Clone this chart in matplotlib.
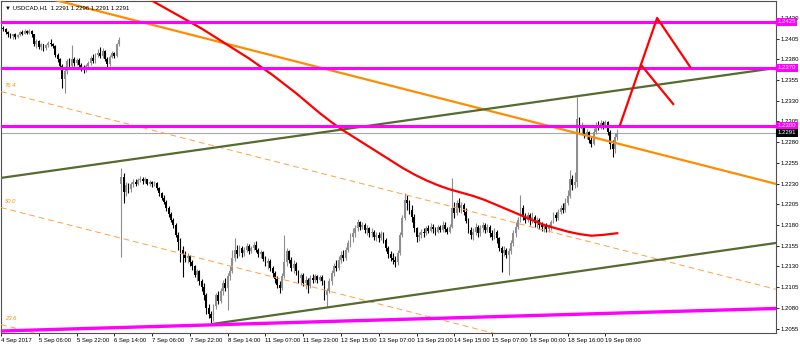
import matplotlib
matplotlib.use('Agg')
import matplotlib.pyplot as plt
import numpy as np

plt.rcParams['font.family'] = ['Liberation Sans', 'DejaVu Sans']

# USDCAD H1, one entry per bar starting 4 Sep 2017 14:00
# prices kept as pips above 1.2000
open_pips = [414, 418, 416, 413, 410, 408, 410, 407, 409, 413, 411, 414, 412, 414,
             410, 398, 402, 395, 398, 393, 397, 400, 398, 396, 385, 380, 372, 356,
             366, 378, 372, 380, 376, 379, 373, 370, 367, 372, 375, 382, 378, 385,
             388, 384, 390, 380, 374, 383, 387, 384, 398, 230,
             238, 220, 228, 223, 229, 232, 230, 234, 236, 233,
             235, 230, 232, 229, 231, 224, 218, 213, 208, 200, 193, 186,
             180, 168, 160, 150, 145, 140, 142, 135, 130, 120, 124, 112,
             105, 95, 80, 72, 68, 82, 95, 88, 100, 110, 104, 118,
             125, 140, 150, 145, 152, 146, 150, 155, 149, 152, 156,
             150, 145, 147, 139, 134, 137, 128, 122, 115, 108, 104,
             118, 135, 148, 138, 128, 133, 124, 116, 120, 110, 114,
             106, 116, 113, 118, 114, 117, 112, 95, 100, 112, 122,
             130, 128, 138, 144, 140, 150, 158, 165, 170, 176, 183, 178,
             180, 174, 176, 170, 172, 166, 168, 164, 169, 162, 152, 145,
             140, 138, 135, 146, 168, 188, 210, 206, 198, 190, 176, 165, 168,
             172, 170, 176, 173, 178, 175, 172, 177, 174, 180, 175, 172,
             178, 200, 195, 206, 200, 204, 196, 185, 174, 168, 172, 178, 170,
             176, 180, 174, 178, 170, 166, 172, 164, 152, 146, 150, 144, 148,
             158, 170, 178, 186, 200, 190, 186, 192, 186, 190, 182, 186,
             180, 177, 180, 175, 178, 184, 192, 188, 196, 200, 198, 206,
             215, 236, 228, 232, 308, 296, 300, 288, 292, 282, 278,
             292, 300, 298, 303, 299, 304, 292, 278, 272, 286]
high_pips = [421, 420, 418, 414, 412, 411, 412, 411, 414, 415, 416, 415, 416, 415,
             411, 404, 403, 400, 399, 399, 402, 404, 400, 397, 388, 382, 374, 370,
             380, 382, 397, 383, 381, 381, 376, 373, 374, 378, 384, 386, 387, 392,
             395, 393, 391, 383, 385, 390, 389, 400, 407, 249,
             243, 232, 231, 232, 235, 236, 237, 239, 238, 238,
             236, 234, 233, 233, 232, 226, 220, 216, 210, 203, 196, 188,
             182, 172, 164, 155, 148, 146, 144, 138, 132, 127, 126, 115,
             110, 98, 84, 76, 85, 98, 100, 104, 114, 116, 122, 130,
             150, 164, 156, 156, 154, 153, 158, 157, 155, 160, 161,
             152, 150, 149, 142, 140, 139, 131, 125, 118, 112, 122,
             168, 152, 150, 141, 138, 135, 126, 122, 122, 118, 116,
             120, 121, 121, 120, 120, 119, 114, 104, 116, 126, 134,
             138, 142, 148, 150, 153, 162, 170, 176, 180, 187, 185, 184,
             182, 180, 178, 176, 174, 171, 172, 173, 171, 164, 155, 148,
             146, 142, 150, 172, 192, 218, 216, 210, 204, 193, 178, 172, 175,
             176, 179, 180, 182, 181, 178, 180, 180, 185, 183, 178, 181,
             237, 208, 210, 212, 208, 207, 200, 188, 178, 176, 182, 180, 180,
             184, 182, 181, 180, 174, 176, 174, 166, 155, 154, 152, 152, 162,
             174, 183, 190, 216, 204, 194, 196, 194, 196, 192, 190, 188,
             183, 182, 182, 181, 186, 196, 196, 199, 204, 206, 212, 222,
             246, 240, 244, 334, 310, 304, 301, 296, 294, 286, 297,
             304, 306, 307, 306, 307, 306, 295, 282, 291, 296]
low_pips = [412, 414, 411, 407, 406, 405, 405, 406, 408, 409, 410, 410, 411, 407,
            396, 393, 392, 391, 390, 391, 395, 396, 394, 383, 377, 368, 345, 339,
            362, 368, 370, 372, 373, 370, 366, 363, 365, 370, 373, 376, 376, 383,
            382, 381, 378, 370, 372, 381, 382, 383, 396, 141,
            207, 215, 219, 220, 226, 227, 228, 232, 230, 231,
            228, 227, 226, 227, 222, 215, 210, 205, 197, 190, 183, 176,
            165, 150, 135, 117, 135, 134, 130, 126, 117, 112, 108, 100,
            90, 72, 68, 62, 64, 79, 84, 86, 96, 100, 77, 114,
            122, 136, 140, 142, 141, 143, 147, 145, 146, 150, 147,
            141, 140, 136, 130, 127, 124, 117, 110, 104, 98, 101,
            116, 130, 134, 124, 122, 120, 110, 108, 106, 103, 98,
            104, 110, 111, 110, 112, 108, 90, 81, 98, 108, 118,
            124, 126, 134, 137, 138, 147, 153, 160, 166, 173, 174, 175,
            170, 168, 165, 166, 162, 161, 160, 162, 158, 148, 140, 136,
            133, 129, 132, 144, 165, 186, 198, 193, 184, 172, 160, 161, 164,
            166, 168, 170, 171, 170, 168, 170, 171, 172, 171, 169, 170,
            176, 188, 192, 196, 195, 192, 182, 170, 163, 162, 168, 166, 167,
            172, 170, 171, 166, 162, 163, 158, 148, 123, 142, 140, 120, 145,
            155, 166, 175, 184, 186, 182, 183, 180, 182, 178, 176, 175,
            173, 172, 171, 172, 174, 182, 185, 186, 193, 194, 196, 204,
            212, 222, 224, 226, 290, 291, 285, 284, 279, 274, 276,
            290, 295, 296, 296, 297, 289, 272, 262, 267, 283]
close_pips = [418, 416, 413, 410, 408, 410, 407, 409, 413, 411, 414, 412, 414, 410,
              398, 402, 395, 398, 393, 397, 400, 398, 396, 385, 380, 372, 356, 366,
              378, 372, 380, 376, 379, 373, 370, 367, 372, 375, 382, 378, 385, 388,
              384, 390, 380, 374, 383, 387, 384, 398, 403, 238,
              220, 228, 223, 229, 232, 230, 234, 236, 233, 235,
              230, 232, 229, 231, 224, 218, 213, 208, 200, 193, 186, 180,
              168, 160, 150, 145, 140, 142, 135, 130, 120, 124, 112, 105,
              95, 80, 72, 68, 82, 95, 88, 100, 110, 104, 118, 125,
              140, 150, 145, 152, 146, 150, 155, 149, 152, 156, 150,
              145, 147, 139, 134, 137, 128, 122, 115, 108, 104, 118,
              135, 148, 138, 128, 133, 124, 116, 120, 110, 114, 106,
              116, 113, 118, 114, 117, 112, 95, 100, 112, 122, 130,
              128, 138, 144, 140, 150, 158, 165, 170, 176, 183, 178, 180,
              174, 176, 170, 172, 166, 168, 164, 169, 162, 152, 145, 140,
              138, 135, 146, 168, 188, 210, 206, 198, 190, 176, 165, 168, 172,
              170, 176, 173, 178, 175, 172, 177, 174, 180, 175, 172, 178,
              200, 195, 206, 200, 204, 196, 185, 174, 168, 172, 178, 170, 176,
              180, 174, 178, 170, 166, 172, 164, 152, 146, 150, 144, 148, 158,
              170, 178, 186, 200, 190, 186, 192, 186, 190, 182, 186, 180,
              177, 180, 175, 178, 184, 192, 188, 196, 200, 198, 206, 215,
              236, 228, 232, 308, 296, 300, 288, 292, 282, 278, 292,
              300, 298, 303, 299, 304, 292, 278, 272, 286, 291]

time_labels = ['4 Sep 2017', '5 Sep 06:00', '5 Sep 22:00', '6 Sep 14:00', '7 Sep 06:00',
               '7 Sep 22:00', '8 Sep 14:00', '11 Sep 07:00', '11 Sep 23:00', '12 Sep 15:00',
               '13 Sep 07:00', '13 Sep 23:00', '14 Sep 15:00', '15 Sep 07:00', '18 Sep 00:00',
               '18 Sep 16:00', '19 Sep 08:00']
bars_per_label = 16

levels = [1.2425, 1.2370, 1.2300]
last_price = 1.2291

# drawn objects: (bar, price) anchor points
trend_x = [0, 328.3]
trend_y = [1.24681, 1.22295]
fib_names = ['76.4', '50.0', '23.6']
fib_left = [1.23410, 1.22010, 1.20598]
fib_right = [1.21023, 1.19624, 1.18212]
chan_up_x = [-0.2, 328.3]
chan_up_y = [1.22367, 1.23695]
chan_lo_x = [89.5, 328.3]
chan_lo_y = [1.20605, 1.21583]
support_x = [-0.2, 328.3]
support_y = [1.20520, 1.20792]

# red moving average
ma_bars = [55, 60, 65, 70, 75, 80, 85, 90, 95, 100, 105, 110, 115, 120, 125, 130,
           135, 140, 145, 150, 155, 160, 165, 170, 175, 180, 185, 190, 195, 200,
           205, 210, 215, 220, 225, 230, 235, 240, 245, 250, 255, 261]
ma_pips = [465, 457, 449, 441, 433, 425, 417, 408, 399, 390, 381, 371, 361, 350,
           339, 327, 315, 304, 294, 285, 276, 267, 258, 249, 241, 234, 228, 223,
           219, 215, 210, 204, 198, 192, 186, 180, 176, 172, 169, 167, 168, 170]

# red projection arrows
proj_x = [262.2, 277.9, 291.9]
proj_y = [1.23007, 1.24298, 1.23707]
proj2_x = [271.1, 284.7]
proj2_y = [1.23731, 1.23260]


def px(p):
    return 1.2 + np.array(p) / 10000.0


o = px(open_pips)
h = px(high_pips)
l = px(low_pips)
c = px(close_pips)
idx = np.arange(len(o))

fig = plt.figure(figsize=(8, 3.45), dpi=100)
ax = fig.add_axes([0.00125, 0.0348, 0.96875, 0.9623])
ax.set_xlim(0.21, 328.25)
ax.set_ylim(1.20496, 1.24503)

# current price line
ax.axhline(last_price, color='#a8a8ac', lw=0.8, zorder=1)

# candles
cols = np.where(c >= o, '#8e8e8e', '#000000')
ax.vlines(idx, l, h, colors=cols, lw=0.8, zorder=2)
ax.bar(idx, np.maximum(np.abs(c - o), 0.00008), bottom=np.minimum(o, c),
       width=0.78, color=cols, linewidth=0, zorder=2)

# fibonacci channel
ax.plot(trend_x, trend_y, color='#ff8c00', lw=1.6, zorder=4)
for name, y0, y1 in zip(fib_names, fib_left, fib_right):
    ax.plot([0, 328.3], [y0, y1], color='#ffa040', lw=0.7, ls=(0, (6, 4)), zorder=3)
    ax.text(1.5, y0 + 0.0004, name, color='#ff8c00', fontsize=4.2,
            ha='left', va='bottom', style='italic', zorder=4)

# channel lines
ax.plot(chan_up_x, chan_up_y, color='#556b2f', lw=1.6, zorder=4)
ax.plot(chan_lo_x, chan_lo_y, color='#556b2f', lw=1.6, zorder=4)
ax.plot(support_x, support_y, color='#ff00ff', lw=2.4, zorder=4)

# moving average
ax.plot(ma_bars, px(ma_pips), color='#ff0000', lw=1.6, zorder=4)

# horizontal levels
for lv in levels:
    ax.axhline(lv, color='#ff00ff', lw=2.2, zorder=5)

# projection
ax.plot(proj_x, proj_y, color='#ff0000', lw=1.6, zorder=6)
ax.plot(proj2_x, proj2_y, color='#ff0000', lw=1.6, zorder=6)

# axes styling
for s in ax.spines.values():
    s.set_color('#505050')
    s.set_linewidth(0.8)
ax.yaxis.tick_right()
yt = np.arange(1.2055, 1.2431, 0.0025)
ax.set_yticks(yt)
ax.set_yticklabels(['%.4f' % v for v in yt])
ax.set_xticks(np.arange(len(time_labels)) * bars_per_label)
ax.set_xticklabels(time_labels, ha='left')
ax.tick_params(axis='both', labelsize=4.3, length=2.5, width=0.6, pad=1, colors='#000000')

# price labels on axis
tr = ax.get_yaxis_transform()
for lv in levels:
    ax.text(1.002, lv, '%.4f' % lv, transform=tr, fontsize=4.3, color='white',
            ha='left', va='center', zorder=10, clip_on=False,
            bbox=dict(boxstyle='square,pad=0.25', fc='#ff00ff', ec='none'))
ax.text(1.002, last_price, '%.4f' % last_price, transform=tr, fontsize=4.3, color='white',
        ha='left', va='center', zorder=10, clip_on=False,
        bbox=dict(boxstyle='square,pad=0.25', fc='#000000', ec='none'))

fig.text(0.006, 0.978, '\u25bc USDCAD,H1  1.2291 1.2296 1.2291 1.2291',
         fontsize=4.3, ha='left', va='center')

fig.savefig('out.png', dpi=100, facecolor='white')
